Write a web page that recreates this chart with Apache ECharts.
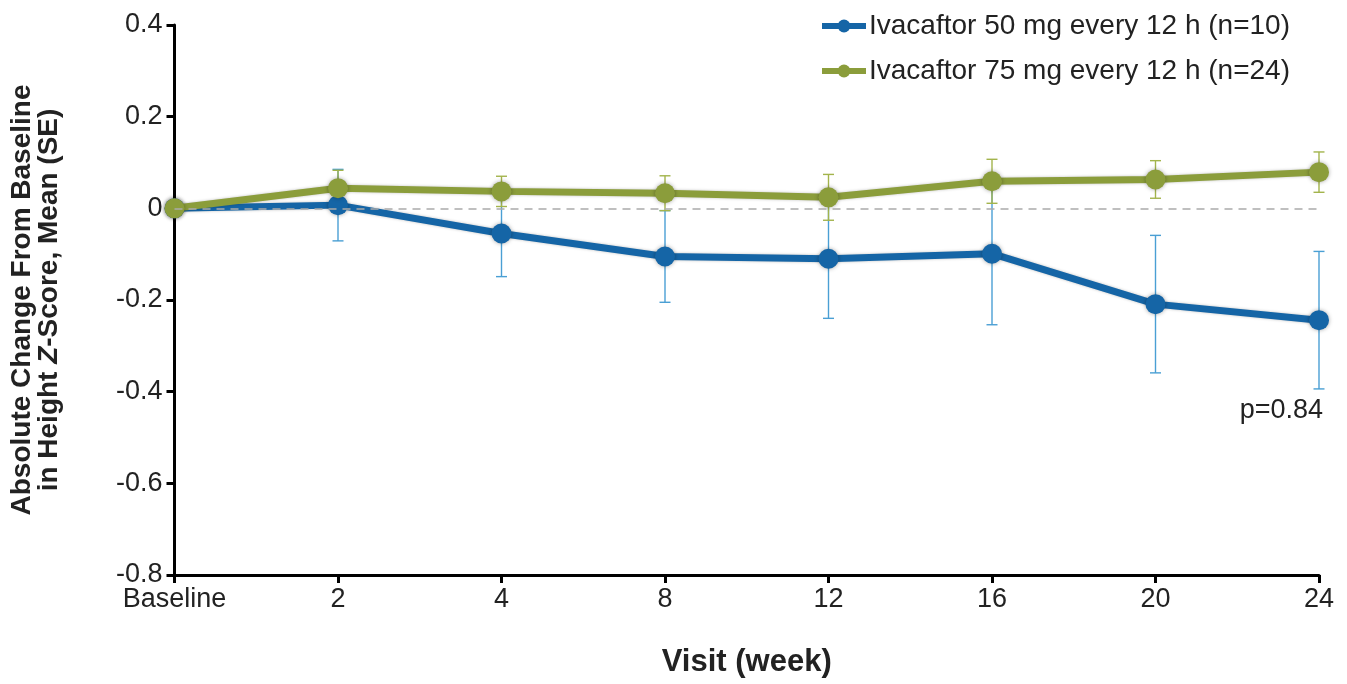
<!DOCTYPE html>
<html>
<head>
<meta charset="utf-8">
<script src="https://cdn.jsdelivr.net/npm/echarts@6/dist/echarts.min.js"></script>
<style>html,body{margin:0;padding:0;background:#fff}#c{width:1347px;height:684px}</style>
</head>
<body>
<div id="c"></div>
<script>
const categories = ['Baseline', '2', '4', '8', '12', '16', '20', '24'];
const mean50 = [0, 0.007, -0.055, -0.105, -0.110, -0.099, -0.209, -0.244];
const se50   = [0, 0.078, 0.094, 0.100, 0.130, 0.155, 0.150, 0.150];
const mean75 = [0, 0.044, 0.037, 0.033, 0.024, 0.059, 0.063, 0.079];
const se75   = [0, 0.039, 0.033, 0.038, 0.050, 0.048, 0.041, 0.044];
const seriesNames = ['Ivacaftor 50 mg every 12 h (n=10)', 'Ivacaftor 75 mg every 12 h (n=24)'];
const yTicks = { min: -0.8, max: 0.4, interval: 0.2 };
const pValueText = 'p=0.84';

const BLUE = '#1565a6';
const GREEN = '#8b9d3b';
const FONT = 'Liberation Sans, Arial, sans-serif';

function errData(mean, se) {
  return mean.map((m, i) => [i, m - se[i], m + se[i]]);
}
function errRender(color) {
  return function (params, api) {
    const x = api.value(0);
    const lo = api.coord([x, api.value(1)]);
    const hi = api.coord([x, api.value(2)]);
    const w = 5.5;
    const st = { stroke: color, lineWidth: 1.4 };
    return {
      type: 'group',
      children: [
        { type: 'line', shape: { x1: lo[0], y1: lo[1], x2: hi[0], y2: hi[1] }, style: st },
        { type: 'line', shape: { x1: lo[0] - w, y1: lo[1], x2: lo[0] + w, y2: lo[1] }, style: st },
        { type: 'line', shape: { x1: hi[0] - w, y1: hi[1], x2: hi[0] + w, y2: hi[1] }, style: st }
      ]
    };
  };
}

const chart = echarts.init(document.getElementById('c'), null, { renderer: 'canvas' });
chart.setOption({
  animation: false,
  textStyle: { fontFamily: FONT },
  grid: { left: 173, right: 28, top: 25, bottom: 109, containLabel: false },
  legend: {
    orient: 'vertical',
    right: 52,
    top: 7,
    itemGap: 17,
    itemWidth: 44,
    itemHeight: 16,
    data: seriesNames,
    lineStyle: { width: 6 },
    textStyle: { fontSize: 28, color: '#222', fontFamily: FONT, padding: [0, 0, 0, -2] }
  },
  xAxis: {
    type: 'category',
    data: categories,
    boundaryGap: false,
    axisLine: { onZero: false, lineStyle: { color: '#000', width: 3 } },
    axisTick: { show: true, length: 8, alignWithLabel: true, lineStyle: { color: '#000', width: 3 } },
    axisLabel: { fontSize: 27, color: '#222', margin: 11, fontFamily: FONT },
    name: 'Visit (week)',
    nameLocation: 'middle',
    nameGap: 72,
    nameTextStyle: { fontSize: 31, fontWeight: 'bold', color: '#222', fontFamily: FONT }
  },
  yAxis: {
    type: 'value',
    min: yTicks.min,
    max: yTicks.max,
    interval: yTicks.interval,
    splitLine: { show: false },
    axisLine: { show: true, lineStyle: { color: '#000', width: 3 } },
    axisTick: { show: true, length: 8, lineStyle: { color: '#000', width: 3 } },
    axisLabel: { fontSize: 27, color: '#222', margin: 12, fontFamily: FONT,
      formatter: v => String(Math.round(v * 10) / 10) },
    name: 'Absolute Change From Baseline\nin Height {i|Z}-Score, Mean (SE)',
    nameLocation: 'middle',
    nameGap: 112,
    nameTextStyle: {
      fontSize: 28, fontWeight: 'bold', color: '#222', fontFamily: FONT, lineHeight: 27, align: 'center',
      rich: { i: { fontSize: 28, fontWeight: 'bold', fontStyle: 'italic', color: '#222', fontFamily: FONT, lineHeight: 27 } }
    }
  },
  series: [
    {
      type: 'custom',
      name: 'err50',
      data: errData(mean50, se50),
      renderItem: errRender('#4a9fd4'),
      z: 1,
      silent: true
    },
    {
      type: 'custom',
      name: 'err75',
      data: errData(mean75, se75),
      renderItem: errRender('#a3b44c'),
      z: 1,
      silent: true
    },
    {
      type: 'line',
      name: seriesNames[1],
      data: mean75,
      symbol: 'circle',
      symbolSize: 20,
      z: 3,
      lineStyle: { color: GREEN, width: 7, shadowBlur: 3, shadowColor: 'rgba(0,0,0,0.25)' },
      itemStyle: { color: GREEN, shadowBlur: 4, shadowColor: 'rgba(0,0,0,0.35)' }
    },
    {
      type: 'line',
      name: seriesNames[0],
      data: mean50,
      symbol: 'circle',
      symbolSize: 20,
      z: 2,
      lineStyle: { color: BLUE, width: 7, shadowBlur: 3, shadowColor: 'rgba(0,0,0,0.25)' },
      itemStyle: { color: BLUE, shadowBlur: 4, shadowColor: 'rgba(0,0,0,0.35)' },
      markLine: {
        silent: true,
        symbol: 'none',
        label: { show: false },
        lineStyle: { color: '#aaa', type: [8, 6], width: 1.5 },
        data: [{ yAxis: 0 }]
      }
    }
  ],
  graphic: [
    {
      type: 'text',
      right: 24,
      top: 397,
      style: { text: pValueText, fontSize: 27, fill: '#222', fontFamily: FONT }
    }
  ]
});
</script>
</body>
</html>
